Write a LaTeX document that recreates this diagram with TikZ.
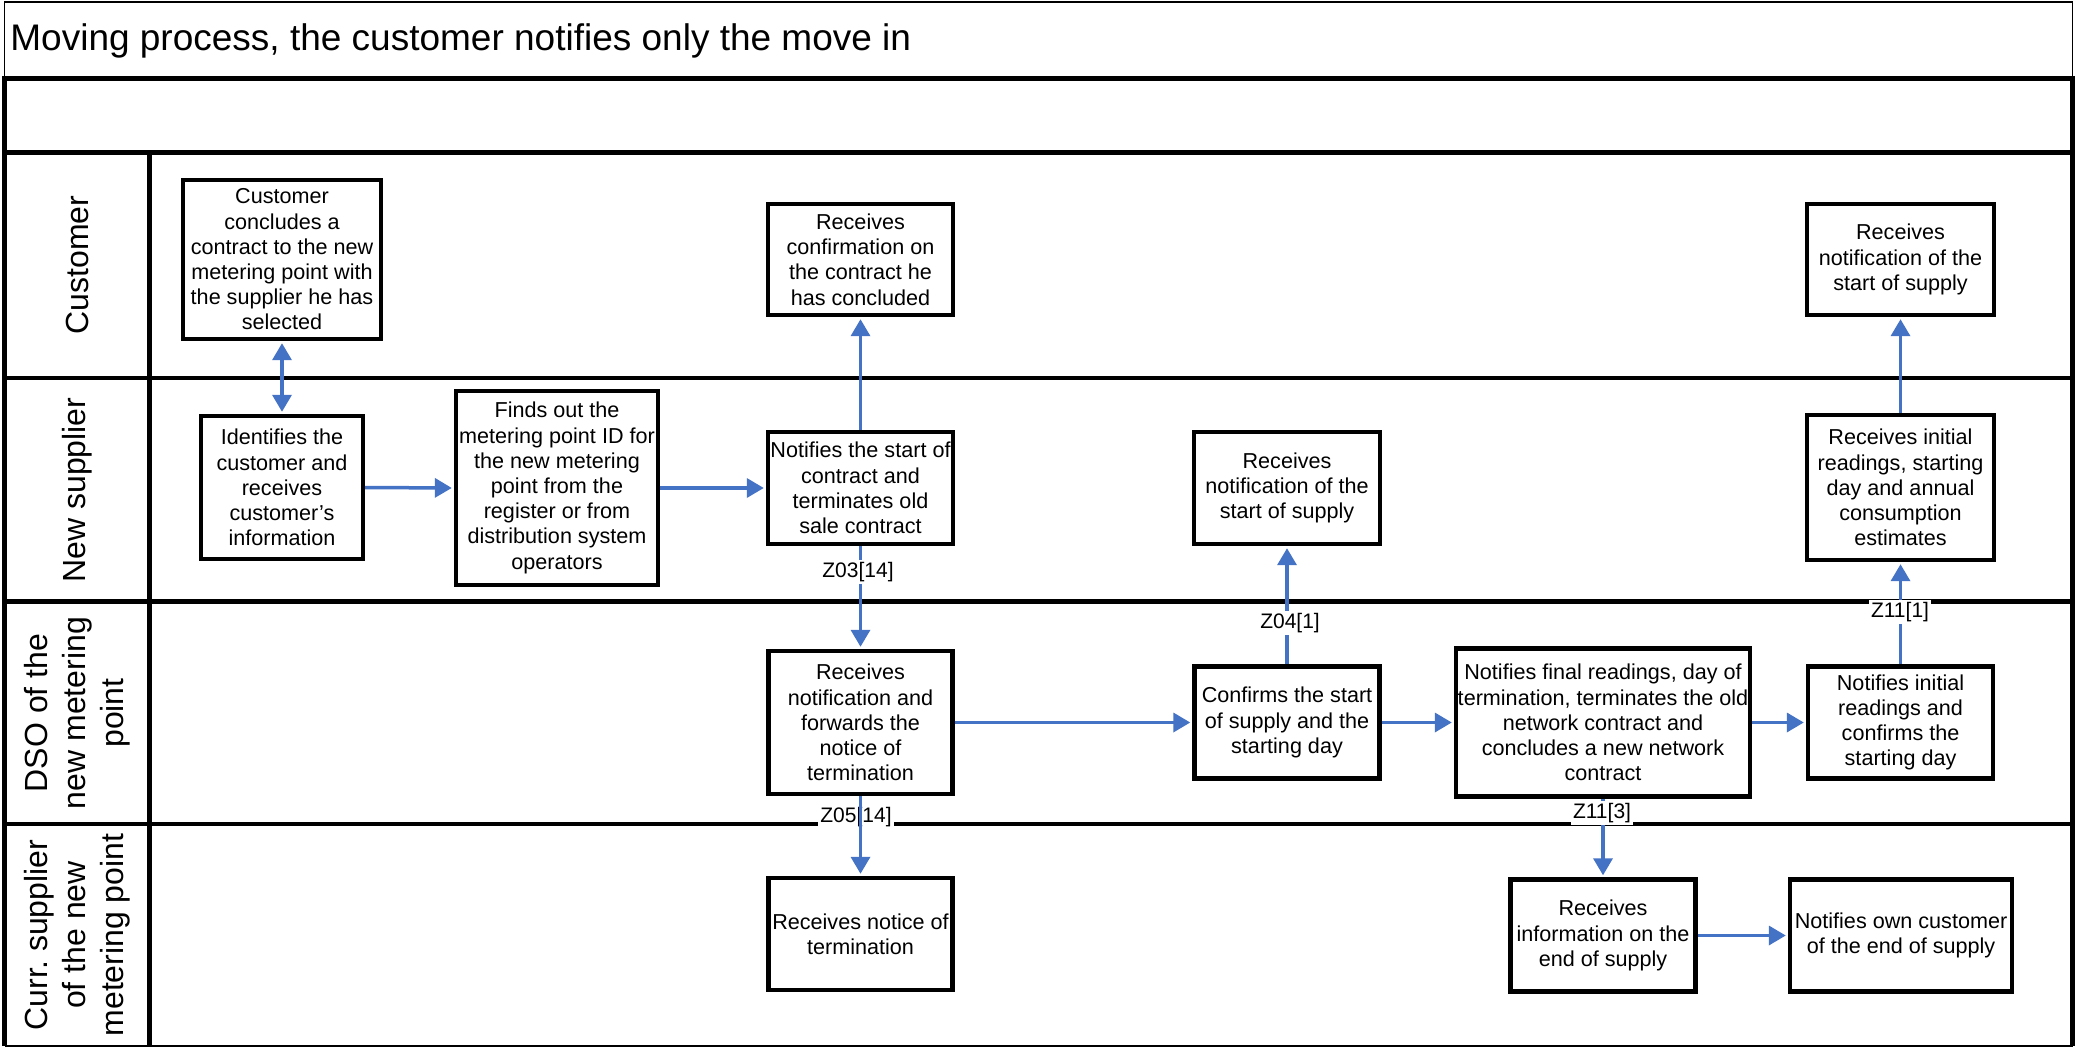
\documentclass[tikz,border=0pt]{standalone}
\usepackage{fontspec}
\setmainfont{Liberation Sans}
\usetikzlibrary{arrows.meta}
\definecolor{flowblue}{RGB}{68,114,196}
\frenchspacing

\begin{document}
\begin{tikzpicture}[x=0.5pt,y=-0.5pt,
  box/.style={draw, line width=2.2pt, rectangle, inner sep=0pt, align=center,
    font=\fontsize{10.8}{12.6}\selectfont},
  flow/.style={draw=flowblue, line width=1.75pt, shorten >=1pt,
    -{Triangle[length=8.5pt,width=9.5pt]}},
  both/.style={draw=flowblue, line width=1.75pt, shorten >=1pt, shorten <=1pt,
    {Triangle[length=8.5pt,width=9.5pt]}-{Triangle[length=8.5pt,width=9.5pt]}},
  msg/.style={fill=white, inner sep=1pt, font=\fontsize{10.5}{12}\selectfont},
  lane/.style={line width=2.25pt},
  lanename/.style={rotate=90, align=center, inner sep=0pt,
    font=\fontsize{16}{19}\selectfont}
]
\useasboundingbox (0,0) rectangle (2076,1048);

% title bar and empty header row
\draw[line width=0.6pt] (4.5,2) rectangle (2072.5,78.5);
\node[anchor=west, inner sep=0pt, font=\fontsize{18.5}{22}\selectfont] (title)
  at (10,41) {Moving process, the customer notifies only the move in};
\draw[lane] (4.5,78.5) rectangle (2072.5,152.5);

% swimlane frame
\draw[line width=0.8pt] (4.5,1046) -- (2072.5,1046);
\draw[lane] (4.5,152.5) -- (4.5,1046);
\draw[lane] (2072.5,152.5) -- (2072.5,1046);
\draw[lane] (149.5,152.5) -- (149.5,1046);
\draw[lane] (4.5,378) -- (2072.5,378);
\draw[lane] (4.5,601.5) -- (2072.5,601.5);
\draw[lane] (4.5,824) -- (2072.5,824);

% lane names
\node[lanename] (lcust) at (77,265) {Customer};
\node[lanename] (lsup) at (77,490) {New supplier};
\node[lanename] (ldso) at (77,713) {DSO of the\\new metering\\point};
\node[lanename] (lcurr) at (77,935) {Curr. supplier\\of the new\\metering point};

% customer lane
\node[box, minimum width=99pt, minimum height=79.5pt] (c1) at (282,259.5)
  {Customer\\concludes a\\contract to the new\\metering point with\\the supplier he has\\selected};
\node[box, minimum width=92.5pt, minimum height=55.5pt] (c2) at (860.5,259.5)
  {Receives\\confirmation on\\the contract he\\has concluded};
\node[box, minimum width=93.5pt, minimum height=55.5pt] (c3) at (1900.5,259.5)
  {Receives\\notification of the\\start of supply};

% new supplier lane
\node[box, minimum width=81pt, minimum height=71.5pt] (n1) at (282,487.5)
  {Identifies the\\customer and\\receives\\customer’s\\information};
\node[box, minimum width=101pt, minimum height=97pt] (n2) at (557,488)
  {Finds out the\\metering point ID for\\the new metering\\point from the\\register or from\\distribution system\\operators};
\node[box, minimum width=92.5pt, minimum height=56pt] (n3) at (860.5,488)
  {Notifies the start of\\contract and\\terminates old\\sale contract};
\node[box, minimum width=93pt, minimum height=56pt] (n4) at (1287,488)
  {Receives\\notification of the\\start of supply};
\node[box, minimum width=93.5pt, minimum height=72.5pt] (n5) at (1900.5,487.5)
  {Receives initial\\readings, starting\\day and annual\\consumption\\estimates};

% DSO lane
\node[box, minimum width=92pt, minimum height=71.5pt] (d1) at (860.5,722.5)
  {Receives\\notification and\\forwards the\\notice of\\termination};
\node[box, minimum width=92.5pt, minimum height=56pt] (d2) at (1287,722.5)
  {Confirms the start\\of supply and the\\starting day};
\node[box, minimum width=147pt, minimum height=74pt] (d3) at (1603,722.5)
  {Notifies final readings, day of\\termination, terminates the old\\network contract and\\concludes a new network\\contract};
\node[box, minimum width=92.5pt, minimum height=56pt] (d4) at (1900.5,722.5)
  {Notifies initial\\readings and\\confirms the\\starting day};

% current supplier lane
\node[box, minimum width=92pt, minimum height=56pt] (s1) at (860.5,934)
  {Receives notice of\\termination};
\node[box, minimum width=92.5pt, minimum height=56pt] (s2) at (1603,935.5)
  {Receives\\information on the\\end of supply};
\node[box, minimum width=111pt, minimum height=56pt] (s3) at (1901,935.5)
  {Notifies own customer\\of the end of supply};

% connectors
\draw[both] (c1.south) -- (n1.north);
\draw[flow] (n1.east) -- (n2.west);
\draw[flow] (n2.east) -- (n3.west);
\draw[flow] (n3.north) -- (c2.south);
\draw[flow] (n3.south) -- (d1.north);
\draw[flow] (d1.east) -- (d2.west);
\draw[flow] (d2.north) -- (n4.south);
\draw[flow] (d2.east) -- (d3.west);
\draw[flow] (d3.east) -- (d4.west);
\draw[flow] (d4.north) -- (n5.south);
\draw[flow] (n5.north) -- (c3.south);
\draw[flow] (d3.south) -- (s2.north);
\draw[flow] (s2.east) -- (s3.west);

% message labels
\node[msg] (z03) at (858,572) {Z03[14]};
\node[msg] (z04) at (1290,623) {Z04[1]};
\node[msg] (z111) at (1900,612) {Z11[1]};
\node[msg] (z113) at (1602,813) {Z11[3]};
\node[msg] (z05) at (856,817) {Z05[14]};
\draw[flow] (d1.south) -- (s1.north);

\end{tikzpicture}
\end{document}
